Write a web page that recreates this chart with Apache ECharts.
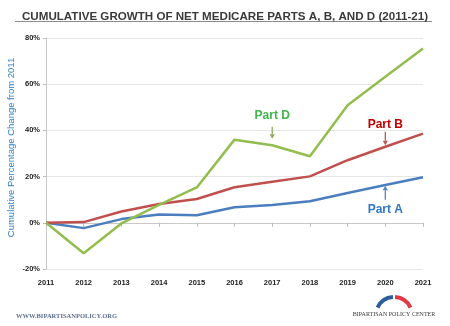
<!DOCTYPE html>
<html>
<head>
<meta charset="utf-8">
<script src="https://cdn.jsdelivr.net/npm/echarts@6/dist/echarts.min.js"></script>
<style>
  html, body { margin: 0; padding: 0; background: #ffffff; }
  #chart { width: 450px; height: 326px; }
</style>
</head>
<body>
<div id="chart"></div>
<script>
// Fiscal years on the category axis
const years = ['2011', '2012', '2013', '2014', '2015', '2016', '2017', '2018', '2019', '2020', '2021'];

// Cumulative percentage change from 2011
const partA = [0, -2.3, 1.6, 3.6, 3.3, 6.7, 7.7, 9.3, 12.9, 16.4, 19.7];
const partB = [0, 0.3, 4.9, 8.1, 10.3, 15.4, 17.8, 20.1, 27.1, 32.9, 38.6];
const partD = [0, -13.2, -0.3, 7.8, 15.3, 36.0, 33.6, 28.8, 50.9, 63.2, 75.5];

// Value axis ticks
const yTicks = [-20, 0, 20, 40, 60, 80];

const seriesNames = ['Part A', 'Part B', 'Part D'];
const lineColors = ['#4a7ebf', '#c0504d', '#93bd4e'];
const labelColors = ['#2f78c4', '#c00000', '#3fb54a'];

const chart = echarts.init(document.getElementById('chart'), null, { renderer: 'canvas' });

const tickLabel = { color: '#222', fontFamily: 'Liberation Sans', fontWeight: 'bold', fontSize: 7.5 };

chart.setOption({
  animation: false,
  backgroundColor: '#ffffff',
  title: {
    text: 'CUMULATIVE GROWTH OF NET MEDICARE PARTS A, B, AND D (2011-21)',
    left: 17, top: 6,
    textStyle: { color: '#3a3a3a', fontFamily: 'Liberation Sans', fontWeight: 'bold', fontSize: 11.6 }
  },
  grid: { left: 46, right: 27, top: 38, bottom: 57, outerBoundsMode: 'none', containLabel: false },
  xAxis: [
    {
      type: 'category', data: years, boundaryGap: false,
      axisLine: { onZero: true, lineStyle: { color: '#c8c8c8', width: 1 } },
      axisTick: { show: true, inside: false, length: 4, lineStyle: { color: '#bdbdbd' } },
      axisLabel: { show: false }
    },
    {
      type: 'category', data: years, boundaryGap: false, position: 'bottom',
      axisLine: { show: false, onZero: false },
      axisTick: { show: false },
      axisLabel: Object.assign({ margin: 10 }, tickLabel)
    }
  ],
  yAxis: {
    type: 'value', min: yTicks[0], max: yTicks[yTicks.length - 1], interval: 20,
    name: 'Cumulative Percentage Change from 2011',
    nameLocation: 'middle', nameGap: 30, nameRotate: 90, nameMoveOverlap: false,
    nameTextStyle: { color: '#2f7fc6', fontFamily: 'Liberation Sans', fontSize: 9.5, padding: [0, 0, 0, 12] },
    axisLine: { show: true, lineStyle: { color: '#c8c8c8' } },
    axisTick: { show: true, length: 3, lineStyle: { color: '#bdbdbd' } },
    axisLabel: Object.assign({ formatter: '{value}%', margin: 6 }, tickLabel),
    splitLine: { show: true, lineStyle: { color: '#e6e6e6', width: 1 } }
  },
  series: [partA, partB, partD].map((d, i) => ({
    name: seriesNames[i], type: 'line', data: d, xAxisIndex: 0,
    symbol: 'none', smooth: false,
    lineStyle: { color: lineColors[i], width: 2.5 },
    z: 3 + i
  }))
});

// Callout labels with arrows, placed in data coordinates (category index, percent)
const callouts = [
  { name: 'Part D', color: labelColors[2], arrow: '#8dab5a', text: [5.87, 46.3], from: [5.84, 41.6], to: [5.84, 36.4] },
  { name: 'Part B', color: labelColors[1], arrow: '#b65a5a', text: [8.82, 42.6], from: [8.82, 39.4], to: [8.68, 33.6] },
  { name: 'Part A', color: labelColors[0], arrow: '#5a86b8', text: [9.14, 5.6], from: [9.18, 10.0], to: [9.18, 16.0] }
];

const px = (p) => chart.convertToPixel({ gridIndex: 0 }, p);

const graphics = [];
callouts.forEach((c) => {
  const t = px(c.text), a = px(c.from), b = px(c.to);
  graphics.push({
    type: 'text', x: t[0], y: t[1], z: 20,
    style: { text: c.name, fill: c.color, font: 'bold 12px "Liberation Sans"', textAlign: 'center', textVerticalAlign: 'middle' }
  });
  const ang = Math.atan2(b[1] - a[1], b[0] - a[0]);
  const h = 4.5, w = 2.6;
  const bx = b[0] - h * Math.cos(ang), by = b[1] - h * Math.sin(ang);
  graphics.push({
    type: 'line', z: 20,
    shape: { x1: a[0], y1: a[1], x2: bx, y2: by },
    style: { stroke: c.arrow, lineWidth: 1.3 }
  });
  graphics.push({
    type: 'polygon', z: 20,
    shape: { points: [
      [b[0], b[1]],
      [bx + w * Math.sin(ang), by - w * Math.cos(ang)],
      [bx - w * Math.sin(ang), by + w * Math.cos(ang)]
    ] },
    style: { fill: c.arrow }
  });
});

// Header rule and footer branding
graphics.push(
  { type: 'line', shape: { x1: 15, y1: 21.5, x2: 432, y2: 21.5 }, style: { stroke: '#8c8c8c', lineWidth: 1 } },
  { type: 'text', x: 16, y: 316, style: { text: 'WWW.BIPARTISANPOLICY.ORG', fill: '#5b6f92', font: 'bold 6.5px "Liberation Serif"', textVerticalAlign: 'middle' } },
  { type: 'arc', shape: { cx: 394, cy: 315, r: 18, startAngle: Math.PI + 0.42, endAngle: 1.5 * Math.PI - 0.06 }, style: { stroke: '#2c5f99', lineWidth: 4, fill: null } },
  { type: 'arc', shape: { cx: 394, cy: 315, r: 18, startAngle: 1.5 * Math.PI + 0.06, endAngle: 2 * Math.PI - 0.42 }, style: { stroke: '#e03a45', lineWidth: 4, fill: null } },
  { type: 'text', x: 394, y: 314.5, style: { text: 'BIPARTISAN POLICY CENTER', fill: '#3a3a3a', font: '6px "Liberation Serif"', textAlign: 'center', textVerticalAlign: 'middle' } }
);

chart.setOption({ graphic: graphics });
</script>
</body>
</html>
